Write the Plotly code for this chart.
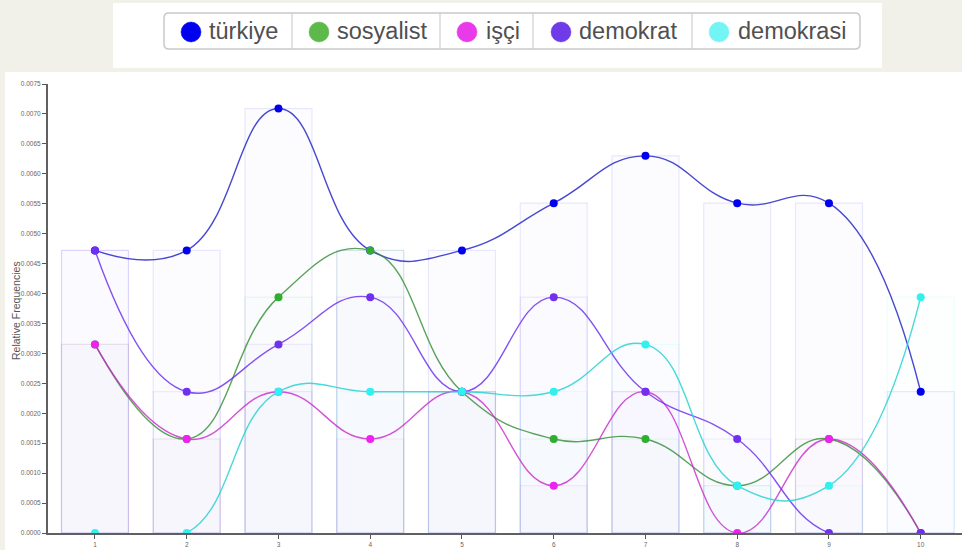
import plotly.graph_objects as go

# ---- data ----
positions = [1, 2, 3, 4, 5, 6, 7, 8, 9, 10]
series_names = ["türkiye", "sosyalist", "işçi", "demokrat", "demokrasi"]
turkiye   = [0.00472, 0.00472, 0.00709, 0.00472, 0.00472, 0.00551, 0.00630, 0.00551, 0.00551, 0.00236]
sosyalist = [0.00315, 0.00157, 0.00394, 0.00472, 0.00236, 0.00157, 0.00157, 0.00079, 0.00157, 0.0]
isci      = [0.00315, 0.00157, 0.00236, 0.00157, 0.00236, 0.00079, 0.00236, 0.0, 0.00157, 0.0]
demokrat  = [0.00472, 0.00236, 0.00315, 0.00394, 0.00236, 0.00394, 0.00236, 0.00157, 0.0, 0.0]
demokrasi = [0.0, 0.0, 0.00236, 0.00236, 0.00236, 0.00236, 0.00315, 0.00079, 0.00079, 0.00394]
series_values = [turkiye, sosyalist, isci, demokrat, demokrasi]
y_tick_vals = [i * 0.0005 for i in range(16)]
y_title = "Relative Frequencies"

# ---- styles ----
marker_colors = ["#0000f0", "#2fae2f", "#f020f0", "#7030f0", "#30f0f0"]
legend_colors = ["#0000f0", "#5cb94a", "#e83ae8", "#6f3ae8", "#74f4f4"]
line_colors = ["rgba(40,40,200,0.85)", "rgba(50,140,50,0.8)", "rgba(200,40,200,0.8)",
               "rgba(110,50,240,0.85)", "rgba(40,210,210,0.85)"]
rgb = [(0, 0, 240), (47, 174, 47), (240, 32, 240), (112, 48, 240), (48, 240, 240)]

W, H = 962, 550
ML, MR, MT, MB = 48, 0, 84, 17
PW, PH = W - ML - MR, H - MT - MB


def px(p):
    return (p - ML) / PW


def py(p):
    return (H - MB - p) / PH


def rounded_rect(x0, y0, x1, y1, r):
    pts = [
        f"M{px(x0 + r)},{py(y0)}",
        f"L{px(x1 - r)},{py(y0)}",
        f"Q{px(x1)},{py(y0)} {px(x1)},{py(y0 + r)}",
        f"L{px(x1)},{py(y1 - r)}",
        f"Q{px(x1)},{py(y1)} {px(x1 - r)},{py(y1)}",
        f"L{px(x0 + r)},{py(y1)}",
        f"Q{px(x0)},{py(y1)} {px(x0)},{py(y1 - r)}",
        f"L{px(x0)},{py(y0 + r)}",
        f"Q{px(x0)},{py(y0)} {px(x0 + r)},{py(y0)}Z",
    ]
    return " ".join(pts)


fig = go.Figure()

for name, vals, c in zip(series_names, series_values, rgb):
    fig.add_trace(go.Bar(
        x=positions, y=vals, width=0.73, name=name, showlegend=False,
        marker=dict(color=f"rgba({c[0]},{c[1]},{c[2]},0.012)",
                    line=dict(color=f"rgba({c[0]},{c[1]},{c[2]},0.09)", width=1.2)),
        hoverinfo="skip",
    ))

for name, vals, mc, lc in zip(series_names, series_values, marker_colors, line_colors):
    fig.add_trace(go.Scatter(
        x=positions, y=vals, name=name, mode="lines+markers", showlegend=False,
        line=dict(color=lc, width=1.4, shape="spline", smoothing=1.3),
        marker=dict(color=mc, size=8),
    ))

shapes = [
    dict(type="rect", xref="paper", yref="paper", x0=px(113), x1=px(882), y0=py(68), y1=py(3),
         fillcolor="white", line=dict(width=0), layer="below"),
    dict(type="rect", xref="paper", yref="paper", x0=px(5), x1=px(964), y0=py(552), y1=py(72),
         fillcolor="white", line=dict(width=0), layer="below"),
    dict(type="path", xref="paper", yref="paper", path=rounded_rect(164, 13, 860, 49, 5),
         fillcolor="rgba(0,0,0,0)", line=dict(color="#c9c9c9", width=1.5)),
]
for sx in [292, 440, 533, 692]:
    shapes.append(dict(type="line", xref="paper", yref="paper", x0=px(sx), x1=px(sx),
                       y0=py(49), y1=py(13), line=dict(color="#cfcfcf", width=1.2)))

circle_cx = [191, 319, 467, 561, 719]
text_x = [207, 335, 484, 577, 736]
annotations = []
for name, col, cx, tx in zip(series_names, legend_colors, circle_cx, text_x):
    shapes.append(dict(type="circle", xref="paper", yref="paper", xsizemode="pixel", ysizemode="pixel",
                       xanchor=px(cx), yanchor=py(32), x0=-10, x1=10, y0=-10, y1=10,
                       fillcolor=col, line=dict(color=col, width=0.5)))
    annotations.append(dict(xref="paper", yref="paper", x=px(tx), y=py(31), xanchor="left",
                            yanchor="middle", text=name, showarrow=False,
                            font=dict(size=23.5, color="#505050",
                                      family="Liberation Sans, Helvetica, Arial, sans-serif")))

annotations.append(dict(xref="paper", yref="paper", x=px(16), y=py(311), xanchor="center",
                        yanchor="middle", text=y_title, textangle=-90, showarrow=False,
                        font=dict(size=10.5, color="#555",
                                  family="Liberation Sans, Helvetica, Arial, sans-serif")))

fig.update_layout(
    width=W, height=H,
    margin=dict(l=ML, r=MR, t=MT, b=MB, pad=0),
    paper_bgcolor="#f2f1e9",
    plot_bgcolor="rgba(0,0,0,0)",
    barmode="overlay",
    showlegend=False,
    shapes=shapes,
    annotations=annotations,
    xaxis=dict(range=[0.488, 10.45], tickvals=positions, ticks="outside", ticklen=4,
               tickcolor="#555", showgrid=False, zeroline=False, showline=True,
               linecolor="#606060", linewidth=2,
               tickfont=dict(size=6.5, color="#666",
                             family="Liberation Sans Narrow, Arial Narrow, Liberation Sans, sans-serif")),
    yaxis=dict(range=[0, 0.0075], tickvals=y_tick_vals, tickformat=".4f", ticks="outside",
               ticklen=4, tickcolor="#555", showgrid=False, zeroline=False, showline=True,
               linecolor="#606060", linewidth=2,
               tickfont=dict(size=6.5, color="#666",
                             family="Liberation Sans Narrow, Arial Narrow, Liberation Sans, sans-serif")),
)

fig.write_html("out.html", config={"displayModeBar": False},
               post_script="document.body.style.margin='0';document.body.style.overflow='hidden';")
